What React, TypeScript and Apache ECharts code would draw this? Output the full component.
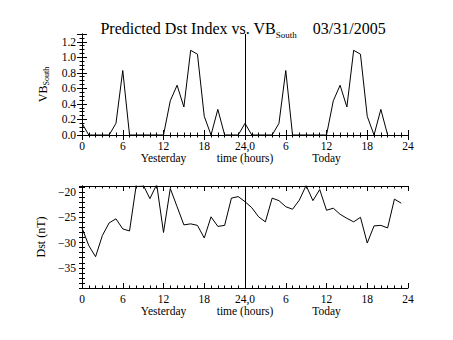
import React, { useEffect, useRef } from "react";
import * as echarts from "echarts";

const hourTicks = [0, 6, 12, 18, 24, 30, 36, 42, 48];
const dayLabels: Record<number, string> = { 12: "Yesterday", 24: "time (hours)", 36: "Today" };
const vbSouth = [
  0.15, 0, 0, 0, 0, 0.15, 0.83, 0, 0, 0, 0, 0, 0, 0.44, 0.64, 0.36, 1.09, 1.04, 0.24, 0, 0.33, 0, 0, 0,
  0.15, 0, 0, 0, 0, 0.15, 0.83, 0, 0, 0, 0, 0, 0, 0.44, 0.64, 0.36, 1.09, 1.04, 0.24, 0, 0.33, 0,
];
const dst = [
  -27.1, -30.6, -32.8, -28.6, -26.1, -25.3, -27.3, -27.7, -18.5, -18.6, -21.3, -18.5, -28.0, -19.3, -22.9, -26.5,
  -26.3, -26.6, -29.1, -24.9, -26.8, -26.6, -21.2, -20.9,
  -21.9, -23.1, -24.9, -25.9, -21.2, -21.7, -22.9, -23.4, -21.6, -18.7, -21.7, -19.5, -23.6, -23.2, -24.4, -25.2,
  -25.9, -25.0, -30.1, -26.7, -26.6, -27.1, -21.4, -22.2,
];
const dstLabels = [-35, -30, -25, -20];

const FONT = "Liberation Serif";
const FS = 11.5;

function hourLabel(v: number): string {
  if (!hourTicks.includes(v)) return "";
  if (v === 24) return "24,0";
  return String(v > 24 ? v - 24 : v);
}

function xAxes(gridIndex: number) {
  const common = {
    type: "value" as const,
    gridIndex,
    min: 0,
    max: 48,
    interval: 6,
    splitLine: { show: false },
    axisLine: { lineStyle: { color: "#000", width: 1 } },
  };
  return [
    {
      ...common,
      position: "bottom",
      axisTick: { inside: true, length: 5, lineStyle: { color: "#000" } },
      minorTick: { show: true, splitNumber: 6, length: 2.5, lineStyle: { color: "#000" } },
      axisLabel: { color: "#000", fontFamily: FONT, fontSize: FS, lineHeight: 11, margin: 5, formatter: hourLabel },
    },
    {
      ...common,
      position: "top",
      axisTick: { inside: true, length: 5, lineStyle: { color: "#000" } },
      minorTick: { show: true, splitNumber: 6, length: 2.5, lineStyle: { color: "#000" } },
      axisLabel: { show: false },
    },
    {
      ...common,
      interval: 12,
      position: "bottom",
      offset: 12,
      axisLine: { show: false },
      axisTick: { show: false },
      axisLabel: {
        color: "#000",
        fontFamily: FONT,
        fontSize: FS,
        lineHeight: 11,
        margin: 5,
        showMinLabel: false,
        showMaxLabel: false,
        formatter: (v: number) => dayLabels[v] || "",
      },
    },
  ];
}

export default function App() {
  const ref = useRef<HTMLDivElement>(null);
  useEffect(() => {
    if (!ref.current) return;
    const chart = echarts.init(ref.current, null, { renderer: "svg" });
    const yTop = {
      type: "value" as const,
      gridIndex: 0,
      min: 0,
      max: 1.3,
      interval: 0.2,
      splitLine: { show: false },
      axisLine: { show: true, lineStyle: { color: "#000" } },
      axisTick: { inside: true, length: 5, lineStyle: { color: "#000" } },
      minorTick: { show: true, splitNumber: 4, length: 2.5, lineStyle: { color: "#000" } },
    };
    const yBot = {
      type: "value" as const,
      gridIndex: 1,
      min: -39,
      max: -18.8,
      interval: 1,
      splitLine: { show: false },
      axisLine: { show: true, lineStyle: { color: "#000" } },
      axisTick: { inside: true, length: 3, lineStyle: { color: "#000" } },
    };
    chart.setOption({
      animation: false,
      backgroundColor: "#fff",
      title: {
        text: "Predicted Dst Index vs. VB{s|South}    03/31/2005",
        left: 238,
        textAlign: "center",
        top: 12,
        textStyle: {
          fontFamily: FONT,
          fontSize: 16,
          fontWeight: "normal",
          color: "#000",
          lineHeight: 22,
          rich: {
            s: { fontFamily: FONT, fontSize: 9, lineHeight: 10, verticalAlign: "bottom", color: "#000" },
          },
        },
      },
      grid: [
        { left: 82, right: 45, top: 34, height: 101 },
        { left: 82, right: 45, top: 186, height: 102 },
      ],
      xAxis: [...xAxes(0), ...xAxes(1)],
      yAxis: [
        {
          ...yTop,
          position: "left",
          name: "VB{s|South}",
          nameLocation: "middle",
          nameRotate: 90,
          nameGap: 27,
          nameTextStyle: {
            fontFamily: FONT,
            fontSize: 12,
            color: "#000",
            lineHeight: 16,
            rich: { s: { fontFamily: FONT, fontSize: 8, lineHeight: 8, verticalAlign: "bottom", color: "#000" } },
          },
          axisLabel: {
            color: "#000",
            fontFamily: FONT,
            fontSize: FS,
            margin: 6,
            showMaxLabel: false,
            formatter: (v: number) => v.toFixed(1),
          },
        },
        { ...yTop, position: "right", axisLabel: { show: false } },
        {
          ...yBot,
          position: "left",
          name: "Dst (nT)",
          nameLocation: "middle",
          nameRotate: 90,
          nameGap: 27,
          nameTextStyle: { fontFamily: FONT, fontSize: 12, color: "#000" },
          axisLabel: {
            color: "#000",
            fontFamily: FONT,
            fontSize: FS,
            margin: 6,
            showMinLabel: false,
            showMaxLabel: false,
            formatter: (v: number) => (dstLabels.includes(v) ? String(v).replace("-", "\u2212") : ""),
          },
        },
        { ...yBot, position: "right", axisLabel: { show: false } },
      ],
      series: [
        {
          type: "line",
          xAxisIndex: 0,
          yAxisIndex: 0,
          data: vbSouth.map((v, i) => [i, v]),
          symbol: "none",
          lineStyle: { color: "#000", width: 1 },
          clip: true,
          markLine: {
            silent: true,
            symbol: "none",
            label: { show: false },
            lineStyle: { color: "#000", width: 1, type: "solid" },
            data: [{ xAxis: 24 }],
          },
        },
        {
          type: "line",
          xAxisIndex: 3,
          yAxisIndex: 2,
          data: dst.map((v, i) => [i, v]),
          symbol: "none",
          lineStyle: { color: "#000", width: 1 },
          clip: true,
          markLine: {
            silent: true,
            symbol: "none",
            label: { show: false },
            lineStyle: { color: "#000", width: 1, type: "solid" },
            data: [{ xAxis: 24 }],
          },
        },
      ],
    });
    return () => chart.dispose();
  }, []);
  return <div ref={ref} style={{ position: "fixed", left: 0, top: 0, width: 453, height: 340 }} />;
}
